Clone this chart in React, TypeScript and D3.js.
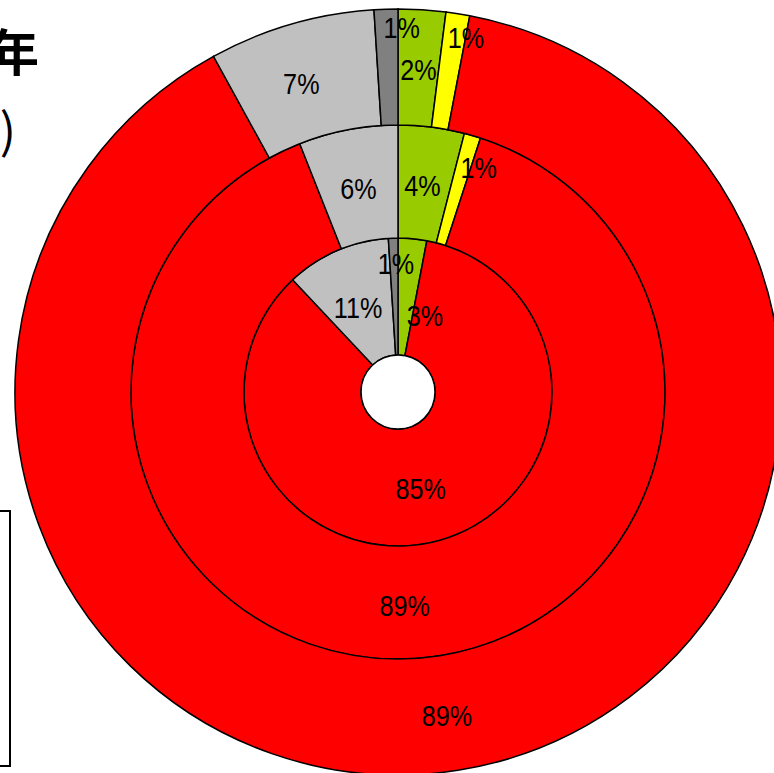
import React from "react";
import * as d3 from "d3";

const categories = ["A", "B", "C", "D", "E"]; // green, yellow, red, light gray, dark gray
const colors = ["#99CC00", "#FFFF00", "#FF0000", "#C0C0C0", "#808080"];

// rings from inner to outer
const innerValues = [3, 0, 85, 11, 1];
const middleValues = [4, 1, 89, 6, 0];
const outerValues = [2, 1, 89, 7, 1];
const rings = [innerValues, middleValues, outerValues];

// label nudges [ring][category] (dx, dy) from the arc centroid
const labelNudges = [
  [[18, 19], [0, 0], [-4, 5], [-2, 3], [1, -33]],
  [[-2, 3], [22, -22], [0, 3], [0, 3], [0, 0]],
  [[0, 2], [17, -33], [-2, 3], [-6, 4], [14, -39]],
];

const titleLine1 = "回答者の割合（年";
const titleLine2 = "(%)";

const W = 774;
const H = 773;
const cx = 398;
const cy = 392;
const radii = [37, 154, 267, 383];

export default function App() {
  const pie = d3
    .pie<number>()
    .value((d) => d)
    .sort(null);

  return (
    <svg
      width={W}
      height={H}
      style={{ position: "absolute", left: 0, top: 0, display: "block", background: "#fff" }}
    >
      <text
        x={39}
        y={71}
        textAnchor="end"
        fontFamily="'Noto Sans CJK JP', sans-serif"
        fontWeight="bold"
        fontSize={50}
        fill="#000"
      >
        {titleLine1}
      </text>
      <text
        x={16}
        y={148}
        textAnchor="end"
        fontFamily="'Noto Sans CJK JP', sans-serif"
        fontSize={48}
        fill="#000"
      >
        {titleLine2}
      </text>
      <rect x={-100} y={511} width={110} height={255} fill="#fff" stroke="#000" strokeWidth={2} />
      <g transform={`translate(${cx},${cy})`}>
        {rings.map((vals, ri) => {
          const arc = d3
            .arc<d3.PieArcDatum<number>>()
            .innerRadius(radii[ri])
            .outerRadius(radii[ri + 1]);
          const arcs = pie(vals);
          return (
            <g key={ri}>
              {arcs.map((a, i) =>
                a.value > 0 ? (
                  <path
                    key={i}
                    d={arc(a) || ""}
                    fill={colors[i]}
                    stroke="#000"
                    strokeWidth={1.5}
                  />
                ) : null
              )}
            </g>
          );
        })}
        {rings.map((vals, ri) => {
          const arc = d3
            .arc<d3.PieArcDatum<number>>()
            .innerRadius(radii[ri])
            .outerRadius(radii[ri + 1]);
          const arcs = pie(vals);
          return (
            <g key={"l" + ri}>
              {arcs.map((a, i) => {
                if (a.value <= 0) return null;
                const [x, y] = arc.centroid(a);
                const [dx, dy] = labelNudges[ri][i];
                return (
                  <text
                    key={i}
                    transform={`translate(${x + dx},${y + dy}) scale(0.84,1)`}
                    textAnchor="middle"
                    dominantBaseline="central"
                    fontFamily="'Liberation Sans', Arial, sans-serif"
                    fontSize={30}
                    fill="#000"
                  >
                    {`${a.value}%`}
                  </text>
                );
              })}
            </g>
          );
        })}
        <circle r={radii[0]} fill="#fff" stroke="#000" strokeWidth={1.5} />
      </g>
    </svg>
  );
}
